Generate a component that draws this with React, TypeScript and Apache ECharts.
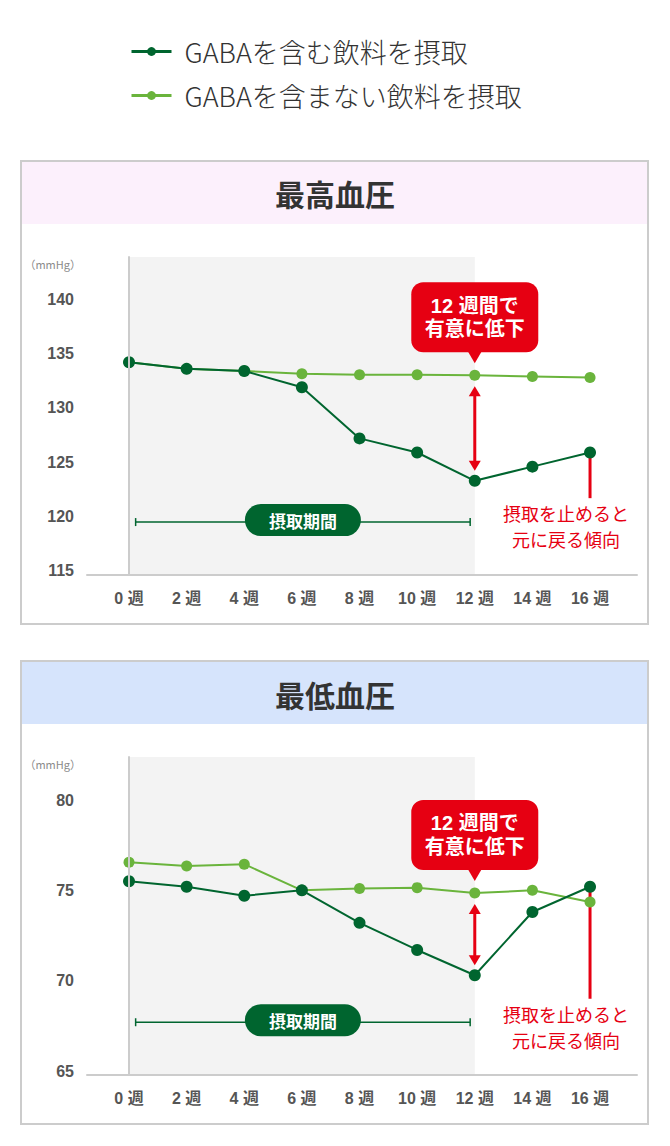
import React, { useEffect, useRef } from "react";
import * as echarts from "echarts";

// ---------- data ----------
const weeks = [0, 2, 4, 6, 8, 10, 12, 14, 16];
const weekTicks = [0, 2, 4, 6, 8, 10, 12, 14, 16];
const seriesNames = ["GABAを含む飲料を摂取", "GABAを含まない飲料を摂取"];
const panelTitles = ["最高血圧", "最低血圧"];
const sbpGaba = [134.2, 133.6, 133.4, 131.9, 127.2, 125.9, 123.3, 124.6, 125.9];
const sbpControl = [134.2, 133.6, 133.4, 133.15, 133.05, 133.05, 133.0, 132.9, 132.8];
const dbpGaba = [75.5, 75.2, 74.7, 75.0, 73.2, 71.7, 70.3, 73.8, 75.2];
const dbpControl = [76.55, 76.35, 76.45, 75.0, 75.1, 75.15, 74.85, 75.0, 74.35];
const sbpTicks = [115, 120, 125, 130, 135, 140];
const dbpTicks = [65, 70, 75, 80];
const sbpRange = [114.63, 143.89];
const dbpRange = [64.78, 82.38];
const weekRange = [-1.458, 17.63];
const shadedWeeks = [0, 12];
const intakeBarWeeks = [0.23, 11.84];
const intakeLevels = [119.5, 67.7];
const noteEndLevels = [121.7, 69.0];
const noteWeek = 15.17;
const compareWeek = 12;
const stopWeek = 16;
const unitLabel = "（mmHg）";
const intakeLabel = "摂取期間";
const calloutText = "12 週間で\n有意に低下";
const noteText = "摂取を止めると\n元に戻る傾向";

// ---------- styles ----------
const DARK = "#00652f";
const LIGHT = "#6ab43c";
const RED = "#e60012";
const AXIS = "#cccccc";
const SHADE = "#f3f3f3";
const FONT = '"Noto Sans CJK JP", "Noto Sans", sans-serif';
const NUMFONT = '"Liberation Sans", "Noto Sans CJK JP", sans-serif';

const panels = [
  { top: 161, header: "#fcf0fc", titleY: 193, gridTop: 257, unitY: 264 },
  { top: 661, header: "#d6e4fc", titleY: 694, gridTop: 757, unitY: 764 },
];

function shadeRenderer(range: number[]) {
  return (_p: any, api: any) => {
    const a = api.coord([shadedWeeks[0], range[1]]);
    const b = api.coord([shadedWeeks[1], range[0]]);
    return {
      type: "rect",
      shape: { x: a[0], y: a[1], width: b[0] - a[0], height: b[1] - a[1] },
      style: { fill: SHADE },
    };
  };
}

function annotationRenderer(gaba: number[], control: number[], intakeY: number, noteEnd: number) {
  return (_p: any, api: any) => {
    const [bx0, by] = api.coord([intakeBarWeeks[0], intakeY]);
    const [bx1] = api.coord([intakeBarWeeks[1], intakeY]);
    const [pcx] = api.coord([(intakeBarWeeks[0] + intakeBarWeeks[1]) / 2, intakeY]);
    const ci = weeks.indexOf(compareWeek);
    const [cx, cyCtrl] = api.coord([compareWeek, control[ci]]);
    const [, cyGaba] = api.coord([compareWeek, gaba[ci]]);
    const si = weeks.indexOf(stopWeek);
    const [sx, sy] = api.coord([stopWeek, gaba[si]]);
    const [, sEnd] = api.coord([stopWeek, noteEnd]);
    const [nx] = api.coord([noteWeek, noteEnd]);
    const tipY = cyCtrl - 12;
    const bH = 70;
    const bW = 127;
    const aTop = cyCtrl + 11;
    const aBot = cyGaba - 10;
    return {
      type: "group",
      children: [
        { type: "line", shape: { x1: bx0, y1: by, x2: bx1, y2: by }, style: { stroke: DARK, lineWidth: 1.5 } },
        { type: "line", shape: { x1: bx0, y1: by - 4, x2: bx0, y2: by + 4 }, style: { stroke: DARK, lineWidth: 1.5 } },
        { type: "line", shape: { x1: bx1, y1: by - 4, x2: bx1, y2: by + 4 }, style: { stroke: DARK, lineWidth: 1.5 } },
        { type: "rect", shape: { x: pcx - 58, y: by - 18, width: 116, height: 32, r: 16 }, style: { fill: DARK } },
        {
          type: "text",
          x: pcx,
          y: by - 2,
          style: { text: intakeLabel, fill: "#ffffff", fontSize: 17, fontWeight: "bold", fontFamily: FONT, align: "center", verticalAlign: "middle" },
        },
        { type: "rect", shape: { x: cx - bW / 2, y: tipY - 11 - bH, width: bW, height: bH, r: 12 }, style: { fill: RED } },
        { type: "polygon", shape: { points: [[cx - 7, tipY - 12], [cx + 7, tipY - 12], [cx, tipY]] }, style: { fill: RED } },
        {
          type: "text",
          x: cx,
          y: tipY - 11 - bH / 2,
          style: { text: calloutText, fill: "#ffffff", fontSize: 20, fontWeight: "bold", fontFamily: NUMFONT, lineHeight: 23.5, align: "center", verticalAlign: "middle" },
        },
        { type: "line", shape: { x1: cx, y1: aTop + 8, x2: cx, y2: aBot - 8 }, style: { stroke: RED, lineWidth: 3 } },
        { type: "polygon", shape: { points: [[cx, aTop], [cx - 6, aTop + 10], [cx + 6, aTop + 10]] }, style: { fill: RED } },
        { type: "polygon", shape: { points: [[cx, aBot], [cx - 6, aBot - 10], [cx + 6, aBot - 10]] }, style: { fill: RED } },
        { type: "line", shape: { x1: sx, y1: sy, x2: sx, y2: sEnd }, style: { stroke: RED, lineWidth: 3 } },
        {
          type: "text",
          x: nx,
          y: sEnd + 28,
          style: { text: noteText, fill: RED, fontSize: 18, fontFamily: FONT, lineHeight: 26.5, align: "center", verticalAlign: "middle" },
        },
      ],
    };
  };
}

export default function App() {
  const ref = useRef<HTMLDivElement>(null);
  useEffect(() => {
    document.body.style.margin = "0";
    if (!ref.current) return;
    const chart = echarts.init(ref.current, undefined, { renderer: "svg" });
    const sets = [
      { gaba: sbpGaba, control: sbpControl, ticks: sbpTicks, range: sbpRange },
      { gaba: dbpGaba, control: dbpControl, ticks: dbpTicks, range: dbpRange },
    ];
    const graphics: any[] = [];
    panels.forEach((p, i) => {
      graphics.push({ type: "rect", z: -10, shape: { x: 22, y: p.top + 1, width: 625, height: 62 }, style: { fill: p.header } });
      graphics.push({ type: "rect", z: -9, shape: { x: 21, y: p.top, width: 627, height: 463 }, style: { fill: "none", stroke: AXIS, lineWidth: 2 } });
      graphics.push({
        type: "text",
        z: 10,
        x: 335,
        y: p.titleY,
        style: { text: panelTitles[i], fill: "#333333", fontSize: 30, fontWeight: "bold", fontFamily: FONT, align: "center", verticalAlign: "middle" },
      });
      graphics.push({
        type: "text",
        z: 10,
        x: 81,
        y: p.unitY,
        style: { text: unitLabel, fill: "#8a8a8a", fontSize: 11, fontFamily: FONT, align: "right", verticalAlign: "middle" },
      });
    });

    const series: any[] = [];
    sets.forEach((s, i) => {
      series.push({
        type: "custom",
        xAxisIndex: i,
        yAxisIndex: i,
        z: 1,
        silent: true,
        data: [[0, s.range[0]]],
        renderItem: shadeRenderer(s.range),
      });
      series.push({
        name: seriesNames[1],
        type: "line",
        xAxisIndex: i,
        yAxisIndex: i,
        z: 2,
        data: weeks.map((w, k) => [w, s.control[k]]),
        symbol: "circle",
        symbolSize: 11,
        lineStyle: { color: LIGHT, width: 2 },
        itemStyle: { color: LIGHT },
      });
      series.push({
        type: "custom",
        xAxisIndex: i,
        yAxisIndex: i,
        z: 2,
        silent: true,
        data: [[0, s.range[0]]],
        renderItem: annotationRenderer(s.gaba, s.control, intakeLevels[i], noteEndLevels[i]),
      });
      series.push({
        name: seriesNames[0],
        type: "line",
        xAxisIndex: i,
        yAxisIndex: i,
        z: 2,
        data: weeks.map((w, k) => [w, s.gaba[k]]),
        symbol: "circle",
        symbolSize: 12,
        lineStyle: { color: DARK, width: 2 },
        itemStyle: { color: DARK },
      });
    });

    const option: any = {
      animation: false,
      backgroundColor: "#ffffff",
      legend: {
        data: seriesNames,
        orient: "vertical",
        left: 130,
        top: 38,
        padding: 0,
        itemWidth: 40,
        itemHeight: 11,
        itemGap: 17,
        selectedMode: false,
        lineStyle: { width: 3 },
        textStyle: { fontSize: 27, fontWeight: 300, color: "#333333", fontFamily: FONT, padding: [0, 0, 0, 8] },
      },
      graphic: graphics,
      grid: panels.map((p) => ({
        left: 87,
        width: 550,
        top: p.gridTop,
        height: 318,
        containLabel: false,
        outerBoundsMode: "none",
      })),
      xAxis: sets.map((_s, i) => ({
        type: "value",
        gridIndex: i,
        min: weekRange[0],
        max: weekRange[1],
        z: 5,
        axisLine: { show: true, lineStyle: { color: AXIS, width: 2 } },
        axisTick: { show: false },
        splitLine: { show: false },
        axisLabel: {
          customValues: weekTicks,
          formatter: (v: number) => `${v} 週`,
          fontSize: 16,
          fontWeight: "bold",
          color: "#555555",
          fontFamily: NUMFONT,
          margin: 15,
        },
      })),
      yAxis: sets.map((s, i) => ({
        type: "value",
        gridIndex: i,
        min: s.range[0],
        max: s.range[1],
        z: 5,
        axisLine: { show: true, lineStyle: { color: AXIS, width: 2 } },
        axisTick: { show: false },
        splitLine: { show: false },
        axisLabel: {
          customValues: s.ticks,
          fontSize: 16,
          fontWeight: "bold",
          color: "#555555",
          fontFamily: NUMFONT,
          margin: 13,
        },
      })),
      series,
    };
    chart.setOption(option);
    return () => chart.dispose();
  }, []);
  return <div ref={ref} style={{ position: "absolute", left: 0, top: 0, width: 670, height: 1146 }} />;
}
